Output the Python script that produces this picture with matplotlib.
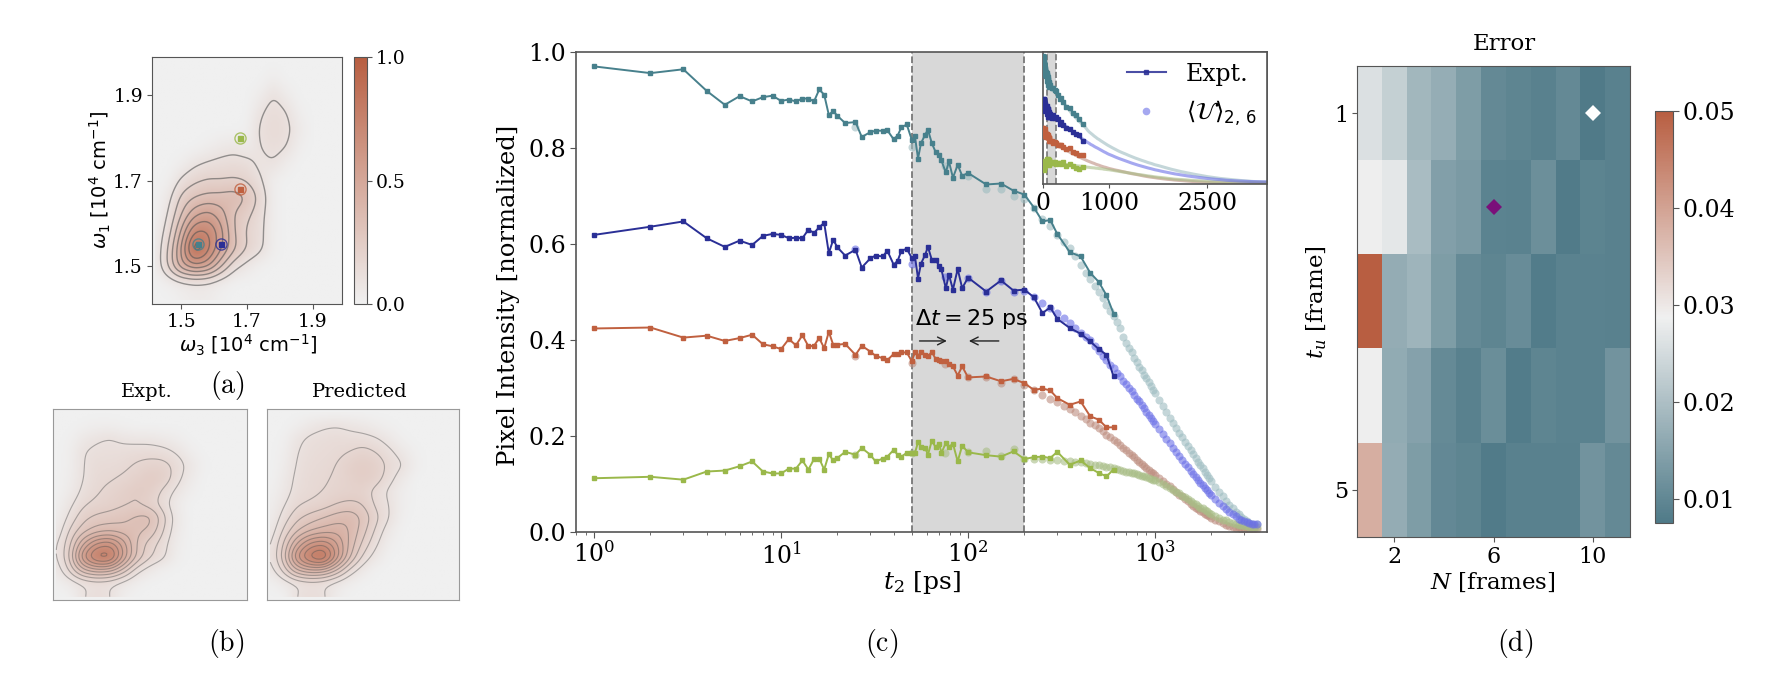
import numpy as np
import matplotlib
matplotlib.use("Agg")
import matplotlib.pyplot as plt
from matplotlib.colors import LinearSegmentedColormap
from matplotlib.lines import Line2D

W, H = 1772, 688

# -------- panel (c) data --------
t_expt = [1, 2, 3, 4, 5, 6, 7, 8, 9, 10, 11, 12, 13, 14, 15, 16, 17, 18, 19, 20,
          22, 25, 27, 30, 32, 35, 37, 40, 42, 44, 47,
          50, 52, 54, 56, 59, 61, 64, 67, 70, 72, 76, 79, 83, 88, 93, 100,
          125, 150, 175, 200, 225, 250, 275, 300,
          350, 400, 450, 500, 550, 600]
teal_expt = [.970, .956, .964, .919, .890, .908, .897, .906, .909, .898, .901, .897, .903, .903, .897, .922,
             .911, .869, .877, .867,
             .852, .854, .823, .833, .836, .836, .837, .818, .826, .843, .849,
             .817, .824, .778, .810, .828, .838, .810, .792, .785, .774, .749, .772, .738, .765, .742, .748,
             .724, .726, .711, .703, .676, .647, .650, .621,
             .583, .574, .540, .521, .493, .455]
blue_expt = [.619, .636, .647, .612, .594, .607, .598, .617, .621, .619, .612, .613, .612, .630, .623, .635,
             .644, .581, .609, .593,
             .576, .588, .551, .570, .576, .574, .586, .557, .565, .586, .590,
             .571, .574, .528, .559, .578, .594, .567, .567, .555, .547, .508, .536, .505, .548, .508, .530,
             .501, .524, .503, .505, .489, .456, .468, .444,
             .425, .413, .397, .381, .369, .324]
red_expt = [.424, .426, .405, .409, .398, .404, .411, .391, .387, .381, .402, .389, .410, .387, .388, .404,
            .383, .417, .390, .390,
            .392, .369, .388, .376, .367, .362, .358, .371, .371, .374, .374,
            .356, .374, .366, .376, .369, .366, .375, .361, .359, .356, .356, .349, .345, .326, .345, .322,
            .324, .314, .319, .310, .296, .299, .295, .279,
            .265, .272, .241, .234, .218, .218]
green_expt = [.112, .115, .109, .126, .128, .137, .147, .126, .122, .122, .132, .132, .149, .130, .152, .153,
              .130, .162, .149, .154,
              .167, .161, .175, .161, .147, .153, .157, .171, .161, .157, .165,
              .165, .165, .187, .178, .175, .161, .190, .177, .184, .165, .185, .177, .184, .147, .180, .166,
              .160, .157, .168, .152, .156, .157, .154, .167,
              .140, .149, .133, .123, .116, .130]

t_pred = list(range(25, 1001, 25)) + list(range(1050, 2001, 50)) + list(range(2100, 3501, 100))
teal_pred = [.844, .802, .763, .741, .715, .715, .699,
             .693, .674, .653, .638, .619, .605, .591, .574, .556, .539, .528, .512, .499, .487, .473, .461, .450,
             .437, .424, .407, .394, .384, .374, .363, .354, .344, .337, .328, .320, .312, .304, .296, .289,
             .275, .262, .249, .238, .228, .217, .207, .197, .188, .179, .171, .162, .155, .146, .140, .133, .126, .119, .112, .106,
             .094, .084, .074, .065, .056, .049, .042, .037, .032, .027, .023, .019, .017, .015, .016]
blue_pred = [.590, .559, .531, .530, .501, .522, .499,
             .503, .490, .478, .466, .456, .445, .435, .426, .415, .406, .399, .387, .378, .367, .358, .348, .341,
             .332, .324, .315, .308, .299, .293, .285, .278, .272, .265, .258, .251, .244, .238, .231, .225,
             .215, .204, .194, .185, .176, .167, .158, .150, .142, .135, .128, .121, .115, .108, .103, .097, .092, .087, .082, .077,
             .069, .061, .054, .048, .042, .037, .033, .028, .025, .022, .020, .018, .017, .016, .017]
red_pred = [.366, .353, .349, .323, .323, .310, .319,
            .306, .296, .285, .278, .270, .262, .256, .249, .242, .235, .228, .222, .216, .210, .203, .198, .192,
            .187, .181, .175, .170, .165, .160, .156, .150, .146, .142, .137, .133, .129, .126, .122, .118,
            .112, .106, .101, .095, .090, .084, .078, .074, .069, .064, .059, .055, .051, .048, .044, .041, .038, .035, .033, .030,
            .026, .022, .018, .015, .012, .010, .009, .008, .007, .006, .006, .006, .006, .006, .007]
green_pred = [.160, .165, .165, .166, .168, .158, .173,
              .153, .153, .153, .150, .150, .148, .147, .146, .145, .143, .142, .140, .139, .137, .136, .135, .133,
              .131, .129, .127, .126, .124, .123, .122, .120, .119, .117, .116, .115, .112, .111, .109, .108,
              .104, .100, .096, .092, .088, .084, .081, .076, .072, .069, .065, .061, .058, .054, .051, .049, .046, .043, .040, .037,
              .034, .030, .026, .024, .021, .019, .017, .015, .014, .012, .012, .011, .010, .010, .010]

# -------- panel (a),(b) spectra, rows from high w1 to low w1 --------
w_axis = [1.42, 1.46, 1.50, 1.54, 1.58, 1.62, 1.66, 1.70, 1.74, 1.78, 1.82, 1.86, 1.90, 1.94, 1.98]
spec_a = [
    [0, 0, 0, 0, 0, 0, 0, 0, 0, 0, 0, 0, 0, 0, 0],
    [0, 0, 0, 0, 0, 0, 0, 0, 0, .03, 0, 0, 0, 0, 0],
    [0, 0, 0, 0, 0, 0, 0, 0, .03, .11, .04, 0, 0, 0, 0],
    [0, 0, 0, 0, 0, 0, 0, 0, .09, .14, .11, .02, 0, 0, 0],
    [0, 0, 0, 0, 0, 0, 0, .01, .12, .145, .13, .05, 0, 0, 0],
    [0, 0, 0, 0, .02, .05, .07, .04, .10, .135, .11, .02, 0, 0, 0],
    [0, 0, .02, .08, .11, .13, .14, .13, .07, .10, .03, 0, 0, 0, 0],
    [0, .01, .12, .18, .21, .20, .21, .19, .11, .02, 0, 0, 0, 0, 0],
    [0, .06, .23, .30, .33, .34, .37, .31, .17, .02, 0, 0, 0, 0, 0],
    [0, .10, .30, .48, .55, .45, .29, .22, .14, .02, 0, 0, 0, 0, 0],
    [.02, .14, .42, .72, .72, .55, .30, .18, .13, .02, 0, 0, 0, 0, 0],
    [.02, .20, .52, .95, .76, .52, .33, .20, .13, .02, 0, 0, 0, 0, 0],
    [.02, .22, .50, .60, .55, .32, .13, .06, .01, 0, 0, 0, 0, 0, 0],
    [0, .02, .05, .07, .06, .03, 0, 0, 0, 0, 0, 0, 0, 0, 0],
    [0, 0, .02, .04, .04, .01, 0, 0, 0, 0, 0, 0, 0, 0, 0],
]
spec_expt = [
    [0, 0, 0, 0, 0, 0, 0, 0, 0, 0, 0, 0, 0, 0, 0],
    [0, 0, .01, .02, .02, .01, 0, 0, 0, 0, 0, 0, 0, 0, 0],
    [0, .01, .06, .09, .11, .08, .07, .07, .05, .03, 0, 0, 0, 0, 0],
    [0, .02, .10, .12, .12, .13, .14, .14, .13, .09, .03, 0, 0, 0, 0],
    [0, .02, .10, .14, .14, .15, .18, .20, .20, .15, .07, .01, 0, 0, 0],
    [0, .03, .10, .15, .16, .18, .21, .25, .23, .13, .05, 0, 0, 0, 0],
    [0, .04, .12, .16, .19, .22, .25, .23, .15, .08, .02, 0, 0, 0, 0],
    [.01, .08, .16, .19, .21, .23, .24, .20, .13, .04, 0, 0, 0, 0, 0],
    [.02, .12, .22, .26, .27, .29, .33, .35, .20, .06, 0, 0, 0, 0, 0],
    [.04, .18, .28, .34, .36, .34, .33, .30, .17, .05, 0, 0, 0, 0, 0],
    [.08, .22, .45, .62, .66, .50, .30, .20, .13, .03, 0, 0, 0, 0, 0],
    [.08, .24, .62, .80, .82, .52, .30, .18, .12, .02, 0, 0, 0, 0, 0],
    [.05, .18, .36, .42, .40, .28, .12, .05, .01, 0, 0, 0, 0, 0, 0],
    [.01, .05, .09, .11, .10, .06, .02, 0, 0, 0, 0, 0, 0, 0, 0],
    [0, 0, .10, .13, .11, .02, 0, 0, 0, 0, 0, 0, 0, 0, 0],
]
spec_pred = [
    [0, 0, 0, 0, 0, 0, 0, 0, 0, 0, 0, 0, 0, 0, 0],
    [0, 0, .02, .06, .09, .10, .08, .06, .03, .01, 0, 0, 0, 0, 0],
    [0, .01, .08, .12, .13, .14, .13, .13, .11, .06, .01, 0, 0, 0, 0],
    [0, .02, .10, .13, .14, .15, .17, .20, .17, .12, .06, .01, 0, 0, 0],
    [0, .03, .11, .14, .15, .17, .22, .24, .22, .15, .11, .02, 0, 0, 0],
    [0, .05, .12, .15, .16, .18, .21, .24, .21, .13, .05, 0, 0, 0, 0],
    [.01, .06, .13, .15, .17, .19, .20, .20, .14, .08, .02, 0, 0, 0, 0],
    [.02, .09, .16, .18, .20, .24, .26, .24, .15, .10, .02, 0, 0, 0, 0],
    [.03, .13, .22, .27, .31, .35, .37, .30, .19, .10, .01, 0, 0, 0, 0],
    [.05, .18, .30, .37, .41, .43, .38, .27, .15, .05, 0, 0, 0, 0, 0],
    [.08, .24, .46, .62, .66, .54, .36, .22, .11, .02, 0, 0, 0, 0, 0],
    [.09, .27, .62, .80, .88, .58, .32, .15, .06, 0, 0, 0, 0, 0, 0],
    [.06, .19, .38, .44, .42, .30, .14, .05, 0, 0, 0, 0, 0, 0, 0],
    [.01, .05, .09, .11, .10, .06, .02, 0, 0, 0, 0, 0, 0, 0, 0],
    [0, 0, .11, .13, .12, .03, 0, 0, 0, 0, 0, 0, 0, 0, 0],
]
pump_w3 = [1.68, 1.68, 1.55, 1.62]
pump_w1 = [1.80, 1.68, 1.55, 1.55]

# -------- panel (d) errors, rows t_u = 1..5, columns N = 1..11 --------
error_grid = [
    [.0260, .0231, .0186, .0170, .0139, .0105, .0097, .0090, .0105, .0078, .0090],
    [.0285, .0272, .0195, .0145, .0135, .0093, .0091, .0115, .0079, .0095, .0090],
    [.0500, .0168, .0180, .0139, .0107, .0097, .0110, .0081, .0091, .0091, .0090],
    [.0285, .0165, .0147, .0107, .0090, .0112, .0081, .0096, .0092, .0092, .0123],
    [.0383, .0168, .0139, .0103, .0096, .0080, .0090, .0090, .0090, .0122, .0104],
]

TEAL, BLUE, RED, GREEN = "#47808c", "#2a2f96", "#c0603f", "#9ab84a"
PALE = {TEAL: "#9dbcc0", BLUE: "#6a6fe6", RED: "#bd8d7f", GREEN: "#a8bd86"}
cmap_div = LinearSegmentedColormap.from_list("tb", ["#4f7a88", "#f0f0f0", "#b85e41"])
cmap_pos = LinearSegmentedColormap.from_list("wb", ["#f0f0f0", "#b85e41"])
EDGE = "#555555"

plt.rcParams["font.family"] = "DejaVu Serif"
plt.rcParams["mathtext.fontset"] = "dejavuserif"


def box(x0, y0, x1, y1):
    # pixel box (y from the top) to figure fractions
    return [x0 / W, 1 - y1 / H, (x1 - x0) / W, (y1 - y0) / H]


def smooth(grid, k=8, sigma=0.36):
    # upsample the coarse reading, then soften so contours are round
    g = np.array(grid, float)
    n = g.shape[0]
    old = np.arange(n)
    new = np.linspace(0, n - 1, (n - 1) * k + 1)
    g = np.array([np.interp(new, old, r) for r in g])
    g = np.array([np.interp(new, old, c) for c in g.T]).T
    half = int(3 * sigma * k)
    ker = np.exp(-0.5 * (np.arange(-half, half + 1) / (sigma * k)) ** 2)
    ker /= ker.sum()
    g = np.array([np.convolve(np.pad(r, half, mode="edge"), ker, "valid") for r in g])
    g = np.array([np.convolve(np.pad(c, half, mode="edge"), ker, "valid") for c in g.T]).T
    return g


def draw_spectrum(ax, grid, levels, lw=1.0, alpha=0.6):
    z = smooth(grid)
    w1 = np.linspace(1.98, 1.42, z.shape[0])
    w3 = np.linspace(w_axis[0], w_axis[-1], z.shape[1])
    ax.set_facecolor("#f0f0f0")
    ax.imshow(z, extent=(w_axis[0], w_axis[-1], w_axis[0], w_axis[-1]), cmap=cmap_pos,
              vmin=0, vmax=1, aspect="auto", interpolation="bilinear")
    ax.contour(w3, w1, z, levels=levels, colors="#555555", linewidths=lw, alpha=alpha)
    ax.set_xlim(1.41, 1.99)
    ax.set_ylim(1.41, 1.99)


fig = plt.figure(figsize=(W / 100, H / 100), dpi=100, facecolor="white")


def label(x, y, s, **kw):
    kw.setdefault("ha", "center")
    kw.setdefault("va", "center")
    return fig.text(x / W, 1 - y / H, s, **kw)


# ---- (a) ----
ax_a = fig.add_axes(box(152, 57, 342, 304))
draw_spectrum(ax_a, spec_a, np.arange(0.1, 0.85, 0.1))
for wx, wy, c in zip(pump_w3, pump_w1, [GREEN, RED, TEAL, BLUE]):
    ax_a.plot(wx, wy, "o", ms=8, mfc="none", mec=c, mew=1.0, alpha=0.8)
    ax_a.plot(wx, wy, "s", ms=3.6, color=c)
ax_a.set_xticks([1.5, 1.7, 1.9])
ax_a.set_yticks([1.5, 1.7, 1.9])
ax_a.tick_params(labelsize=13.5, length=3.5, color=EDGE, pad=3)
for s in ax_a.spines.values():
    s.set_color(EDGE)
sm = plt.cm.ScalarMappable(cmap=cmap_pos, norm=plt.Normalize(0, 1))
cax_a = fig.add_axes(box(354, 57, 367, 304))
cb_a = fig.colorbar(sm, cax=cax_a, ticks=[0, 0.5, 1])
cb_a.ax.set_yticklabels(["0.0", "0.5", "1.0"])
cb_a.ax.tick_params(labelsize=13.5, length=3.5, color=EDGE, pad=3)
cb_a.outline.set_edgecolor(EDGE)
label(248, 345, r"$\omega_3$ [$10^4$ cm$^{-1}$]", family="DejaVu Sans", fontsize=14, math_fontfamily="dejavusans")
label(100, 180, r"$\omega_1$ [$10^4$ cm$^{-1}$]", family="DejaVu Sans", fontsize=14, math_fontfamily="dejavusans", rotation=90)
label(227, 385, r"$\mathrm{(a)}$", fontsize=20, math_fontfamily="cm")

# ---- (b) ----
for rect, grid, title, tx in [((53, 409, 247, 600), spec_expt, "Expt.", 147),
                              ((267, 409, 459, 600), spec_pred, "Predicted", 360)]:
    ax_b = fig.add_axes(box(*rect))
    draw_spectrum(ax_b, grid, np.arange(0.1, 0.78, 0.07), lw=0.8, alpha=0.45)
    ax_b.set_xticks([])
    ax_b.set_yticks([])
    for s in ax_b.spines.values():
        s.set_color("#999999")
    label(tx, 392, title, fontsize=14)
label(226, 643, r"$\mathrm{(b)}$", fontsize=20, math_fontfamily="cm")

# ---- (c) ----
series = [(teal_expt, teal_pred, TEAL), (red_expt, red_pred, RED),
          (green_expt, green_pred, GREEN), (blue_expt, blue_pred, BLUE)]
ax_c = fig.add_axes(box(576, 52, 1267, 532))
ax_c.axvspan(50, 200, color="#d8d8d8", zorder=0, lw=0)
ax_c.axvline(50, color="#777777", ls="--", lw=1.3, zorder=1)
ax_c.axvline(200, color="#777777", ls="--", lw=1.3, zorder=1)
for ye, yp, c in series:
    ax_c.plot(t_pred, yp, "o", ms=5.8, color=PALE[c], alpha=0.6, mew=0, zorder=2)
    ax_c.plot(t_expt, ye, "-s", color=c, lw=1.4, ms=3.5, zorder=3)
ax_c.set_xscale("log")
ax_c.set_xlim(0.8, 3970)
ax_c.set_ylim(0, 1)
ax_c.set_yticks([0, .2, .4, .6, .8, 1])
ax_c.set_yticklabels(["0.0", "0.2", "0.4", "0.6", "0.8", "1.0"])
ax_c.tick_params(labelsize=17, length=4, color=EDGE, pad=3)
ax_c.tick_params(which="minor", length=2.5, color=EDGE)
for s in ax_c.spines.values():
    s.set_color(EDGE)
    s.set_linewidth(1.2)
ax_c.text(105, .444, r"$\Delta t = 25$ ps", ha="center", va="center", fontsize=16,
          family="DejaVu Sans", math_fontfamily="dejavusans")
ax_c.annotate("", xy=(77, .398), xytext=(55, .398),
              arrowprops=dict(arrowstyle="->", lw=1, color="#222222", mutation_scale=14, shrinkA=0, shrinkB=0))
ax_c.annotate("", xy=(101, .398), xytext=(146, .398),
              arrowprops=dict(arrowstyle="->", lw=1, color="#222222", mutation_scale=14, shrinkA=0, shrinkB=0))
label(922, 583, r"$t_2$ [ps]", fontsize=18)
label(509, 295, "Pixel Intensity [normalized]", fontsize=17.5, rotation=90)
label(882, 643, r"$\mathrm{(c)}$", fontsize=20, math_fontfamily="cm")

# inset
ax_i = fig.add_axes(box(1043, 52, 1267, 184), zorder=5)
ax_i.axvspan(50, 200, color="#d8d8d8", zorder=0, lw=0)
ax_i.axvline(50, color="#777777", ls="--", lw=1.2, zorder=1)
ax_i.axvline(200, color="#777777", ls="--", lw=1.2, zorder=1)
for ye, yp, c in series:
    ax_i.plot(t_pred, yp, "-", lw=2.2, color=PALE[c], alpha=0.6, zorder=2)
    ax_i.plot(t_expt, ye, "-s", color=c, lw=1.3, ms=3, zorder=3)
ax_i.set_xlim(-5, 3410)
ax_i.set_ylim(0, 1)
ax_i.set_yticks([])
ax_i.set_xticks([0, 1000, 2500])
ax_i.tick_params(labelsize=17, length=3, color=EDGE, pad=3)
for s in ax_i.spines.values():
    s.set_color(EDGE)
    s.set_linewidth(1.2)
h_expt = Line2D([], [], color=BLUE, marker="s", ms=3.5, lw=1.5, alpha=0.85)
h_pred = Line2D([], [], color=PALE[BLUE], marker="o", ms=5.5, lw=0, alpha=0.6, mew=0)
leg = ax_i.legend([h_expt, h_pred], ["Expt.", r"$\langle\mathcal{U}\rangle_{2,\,6}$"], frameon=False, fontsize=17,
                  loc="upper right", bbox_to_anchor=(1.05, 1.08), labelspacing=0.55, handlelength=1.65,
                  handletextpad=0.85)
leg.get_texts()[1].set_math_fontfamily("dejavusans")

# ---- (d) ----
ax_d = fig.add_axes(box(1357, 66, 1630, 537))
im = ax_d.imshow(error_grid, extent=(0.5, 11.5, 5.5, 0.5), cmap=cmap_div, vmin=0.00755, vmax=0.05,
                 aspect="auto", interpolation="nearest")
ax_d.plot(10, 1, "D", color="white", ms=8.5, mew=0)
ax_d.plot(6, 2, "D", color="#7a0f7a", ms=8.5, mew=0)
ax_d.set_xticks([2, 6, 10])
ax_d.set_yticks([1, 5])
ax_d.tick_params(labelsize=16, length=3.5, color=EDGE, pad=3)
for s in ax_d.spines.values():
    s.set_color(EDGE)
cax_d = fig.add_axes(box(1655, 111, 1673, 523))
cb_d = fig.colorbar(im, cax=cax_d, ticks=[.01, .02, .03, .04, .05])
cb_d.ax.set_yticklabels(["0.01", "0.02", "0.03", "0.04", "0.05"])
cb_d.ax.tick_params(labelsize=17, length=4, color=EDGE, pad=3)
cb_d.outline.set_edgecolor(EDGE)
label(1504, 44, "Error", fontsize=16.5)
label(1493, 582, r"$N$ [frames]", fontsize=16.5)
label(1317, 302, r"$t_u$ [frame]", fontsize=16.5, rotation=90)
label(1515, 643, r"$\mathrm{(d)}$", fontsize=20, math_fontfamily="cm")

fig.savefig("out.png", dpi=100)
